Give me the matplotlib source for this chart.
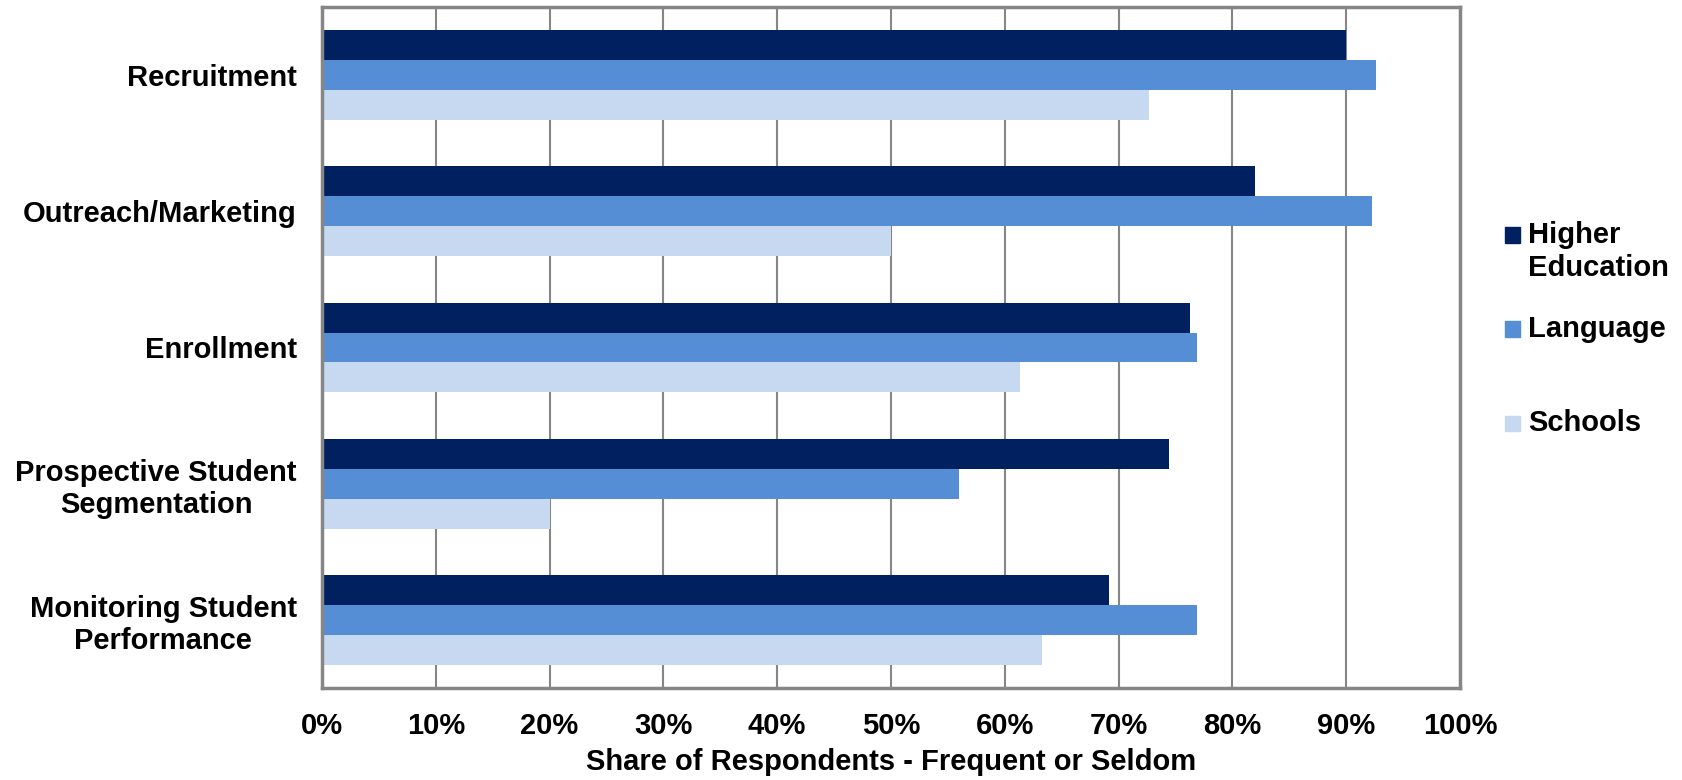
import numpy as np
import matplotlib.pyplot as plt
from matplotlib.patches import Rectangle

plt.rcParams['font.family'] = ['Liberation Sans', 'DejaVu Sans']
plt.rcParams['font.weight'] = 'bold'

categories = ['Recruitment', 'Outreach/Marketing', 'Enrollment',
              'Prospective Student\nSegmentation', 'Monitoring Student\nPerformance']
series = ['Higher\nEducation', 'Language', 'Schools']
higher_ed = [90.0, 82.0, 76.3, 74.4, 69.2]
language = [92.6, 92.3, 76.9, 56.0, 76.9]
schools = [72.7, 50.0, 61.3, 20.0, 63.3]
colors = ['#002060', '#558ED5', '#C6D9F1']
xticks = np.arange(0, 101, 10)

fig = plt.figure(figsize=(16.83, 7.8), dpi=100)
ax = fig.add_axes([0.1913, 0.118, 0.6762, 0.873])

y = np.arange(len(categories))
h = 0.22
for k, (vals, col) in enumerate(zip([higher_ed, language, schools], colors)):
    ax.barh(y + (k - 1) * h, vals, height=h, color=col, zorder=2)

fs = 21
ax.set_xlim(0, 100)
ax.set_ylim(len(categories) - 0.5, -0.5)
ax.set_xticks(xticks)
ax.set_xticklabels([f'{t}%' for t in xticks], fontsize=fs, fontweight='bold')
ax.set_yticks(y)
ax.set_yticklabels(categories, fontsize=fs, fontweight='bold',
                   multialignment='center', linespacing=1.2)
ax.tick_params(axis='x', length=0, pad=17)
ax.tick_params(axis='y', length=0, pad=18)
ax.grid(axis='x', color='#868686', linewidth=1.5, zorder=1)
for s in ax.spines.values():
    s.set_color('#868686')
    s.set_linewidth(2.5)
ax.set_xlabel('Share of Respondents - Frequent or Seldom', fontsize=fs,
              fontweight='bold', labelpad=6)

# legend drawn as squares with text beside them
W, H = fig.get_size_inches() * fig.dpi
legend_y = [235, 329, 423]
for name, col, ly in zip(series, colors, legend_y):
    fig.add_artist(Rectangle((1505 / W, 1 - (ly + 7.5) / H), 15 / W, 15 / H,
                             color=col, transform=fig.transFigure))
    fig.text(1528 / W, 1 - (ly - 14) / H, name, fontsize=fs, fontweight='bold',
             va='top', ha='left', linespacing=1.25)

fig.savefig('out.png', dpi=100)
